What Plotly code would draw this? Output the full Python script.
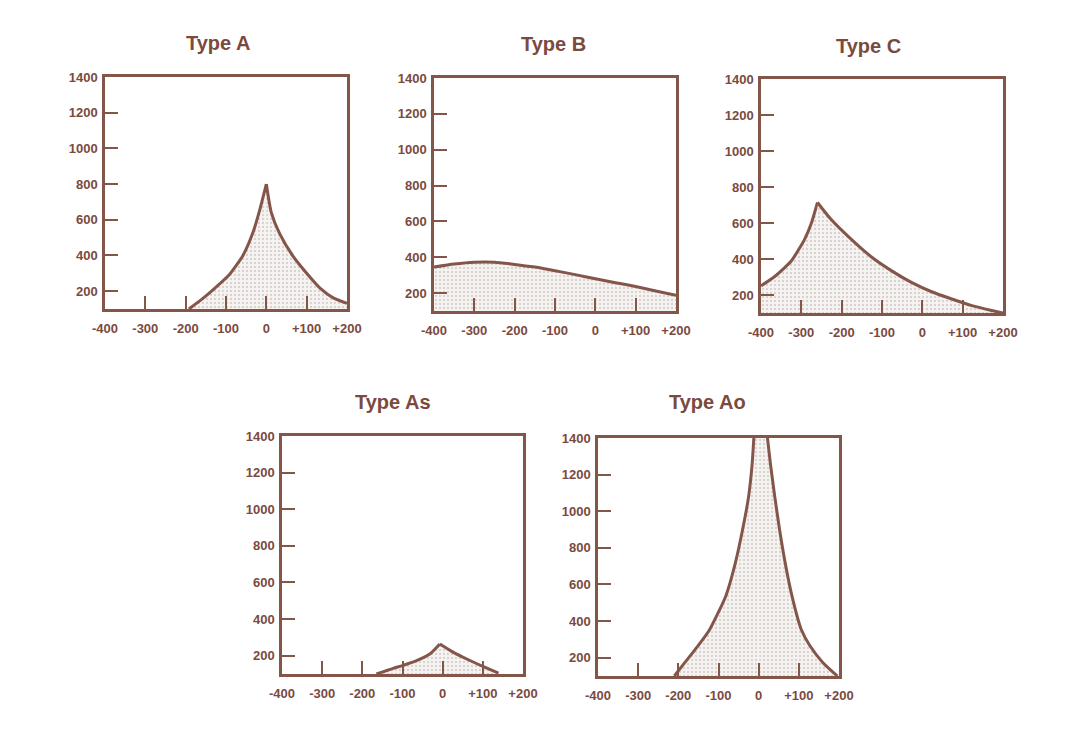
import plotly.graph_objects as go

# ---- data ----
titles = ["Type A", "Type B", "Type C", "Type As", "Type Ao"]

a_x = [-192, -158, -126, -92, -58, -33, -17, 0, 12, 33, 67, 100, 133, 167, 200]
a_y = [100, 158, 220, 292, 400, 530, 650, 800, 643, 522, 393, 300, 217, 161, 132]

b_x = [-400, -350, -300, -250, -200, -150, -100, -50, 0, 50, 100, 150, 200]
b_y = [345, 362, 372, 372, 360, 345, 325, 303, 280, 258, 237, 212, 187]

c_x = [-400, -366, -325, -292, -275, -260, -226, -176, -126, -76, -27, 23, 73, 123, 172, 200]
c_y = [251, 303, 389, 509, 600, 714, 619, 509, 411, 334, 270, 218, 178, 141, 114, 100]

as_x = [-165, -123, -100, -65, -32, -7, 27, 60, 100, 139]
as_y = [100, 131, 146, 173, 209, 264, 218, 182, 142, 105]

ao_x = [-210, -185, -152, -123, -82, -58, -40, -25, -16, -12, 2, 22, 29, 40, 52, 66, 83, 106, 128, 160, 196]
ao_y = [100, 170, 262, 350, 536, 718, 900, 1081, 1264, 1400, 1810, 1400, 1264, 1081, 900, 718, 536, 354, 264, 173, 100]

x_ticks = [-400, -300, -200, -100, 0, 100, 200]
x_labels = ["-400", "-300", "-200", "-100", "0", "+100", "+200"]
y_ticks = [200, 400, 600, 800, 1000, 1200, 1400]
y_labels = ["200", "400", "600", "800", "1000", "1200", "1400"]

series = [(a_x, a_y), (b_x, b_y), (c_x, c_y), (as_x, as_y), (ao_x, ao_y)]
cusped = [True, False, True, True, True]

# ---- layout (pixels in a 1083 x 735 page) ----
W, H = 1083, 735
boxes = [  # left, right, top, bottom
    (105, 347, 77, 309),
    (434, 676, 78, 311),
    (761, 1003, 79, 313),
    (282, 523, 436, 674),
    (598, 839, 438, 676),
]
title_pos = [(218, 43), (553, 44), (868, 46), (393, 402), (707, 402)]

BROWN = "#84564a"
TXT = "#7a4a3e"
FONT = "Liberation Sans, Arial, sans-serif"

fig = go.Figure()
layout = dict(
    width=W, height=H,
    margin=dict(l=0, r=0, t=0, b=0, autoexpand=False),
    paper_bgcolor="white", plot_bgcolor="white",
    showlegend=False,
    annotations=[],
)


def peak_index(ys):
    return max(range(len(ys)), key=lambda k: ys[k])


for i, ((xs, ys), (l, r, t, b)) in enumerate(zip(series, boxes)):
    n = "" if i == 0 else str(i + 1)
    if cusped[i]:
        p = peak_index(ys)
        # a cusp-shaped curve is drawn as two smooth branches meeting at its peak
        branches = [(xs[:p + 1], ys[:p + 1]), (xs[p:], ys[p:])]
    else:
        branches = [(xs, ys)]
    for bx, by in branches:
        fig.add_trace(go.Scatter(
            x=bx, y=by, mode="lines",
            line=dict(color=BROWN, width=3, shape="spline", smoothing=0.55),
            fill="tozeroy",
            fillcolor="rgba(236,231,228,0.5)",
            fillpattern=dict(shape=".", fgcolor="rgba(125,100,92,0.5)",
                             bgcolor="rgba(238,233,230,0.5)", size=4, solidity=0.25),
            xaxis="x" + n, yaxis="y" + n, hoverinfo="skip",
        ))
    common = dict(
        showline=True, mirror=True, linecolor=BROWN, linewidth=2.5,
        showgrid=False, zeroline=False, automargin=False,
        ticks="inside", ticklen=13, tickwidth=2, tickcolor=BROWN,
        tickfont=dict(family=FONT, size=13, color=TXT, weight="bold"),
        fixedrange=True, layer="above traces",
    )
    layout["xaxis" + n] = dict(
        common, domain=[l / W, r / W], anchor="y" + n,
        range=[-400, 200], tickvals=x_ticks, ticktext=x_labels,
        ticklabelstandoff=6,
    )
    layout["yaxis" + n] = dict(
        common, domain=[1 - b / H, 1 - t / H], anchor="x" + n,
        range=[100, 1400], tickvals=y_ticks, ticktext=y_labels,
        ticklabelstandoff=2,
    )
    tx, ty = title_pos[i]
    layout["annotations"].append(dict(
        text=titles[i], x=tx / W, y=1 - ty / H, xref="paper", yref="paper",
        showarrow=False, xanchor="center", yanchor="middle",
        font=dict(family=FONT, size=20, color=TXT, weight="bold"),
    ))

fig.update_layout(**layout)
fig.write_html(
    "out.html",
    config={"displayModeBar": False},
    post_script="document.body.style.margin='0';document.body.style.padding='0';",
)
